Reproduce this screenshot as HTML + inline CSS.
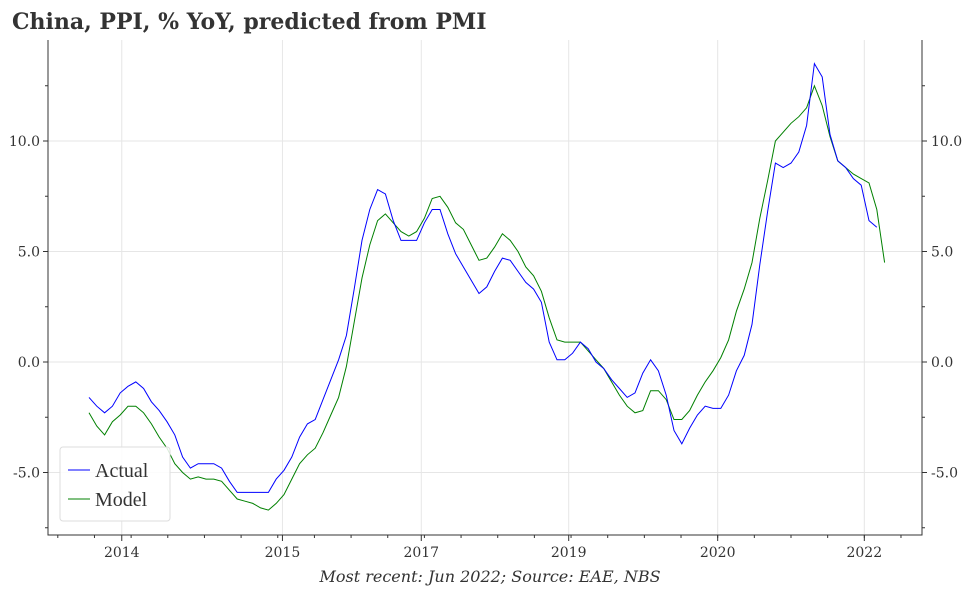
<!DOCTYPE html>
<html><head><meta charset="utf-8"><style>
body{margin:0;background:#fff;width:972px;height:589px;overflow:hidden}
text{font-family:"DejaVu Serif","Liberation Serif",serif}
</style></head><body>
<svg id="chart" width="972" height="589">
<text x="12" y="29" font-size="22" font-weight="bold" fill="#333">China, PPI, % YoY, predicted from PMI</text>
<g id="grid"></g><g id="axes"></g><g id="series"></g>
<g>
<rect x="60" y="447" width="110" height="74" rx="3" fill="#fff" fill-opacity="0.85" stroke="#ddd"/>
<line x1="68" y1="470" x2="90" y2="470" stroke="#0000ff" stroke-width="1"/>
<text x="95" y="477" font-size="20" fill="#333" style="font-family:'Liberation Serif',serif">Actual</text>
<line x1="68" y1="499" x2="90" y2="499" stroke="#008000" stroke-width="1"/>
<text x="95" y="506" font-size="20" fill="#333" style="font-family:'Liberation Serif',serif">Model</text>
</g>
<text x="490" y="582" font-size="16" font-style="italic" fill="#333" text-anchor="middle">Most recent: Jun 2022; Source: EAE, NBS</text>
</svg>
<script>
const actual=[-1.6,-2.0,-2.3,-2.0,-1.4,-1.1,-0.9,-1.2,-1.8,-2.2,-2.7,-3.3,
-4.3,-4.8,-4.6,-4.6,-4.6,-4.8,-5.4,-5.9,-5.9,-5.9,-5.9,-5.9,
-5.3,-4.9,-4.3,-3.4,-2.8,-2.6,-1.7,-0.8,0.1,1.2,3.3,5.5,
6.9,7.8,7.6,6.4,5.5,5.5,5.5,6.3,6.9,6.9,5.8,4.9,
4.3,3.7,3.1,3.4,4.1,4.7,4.6,4.1,3.6,3.3,2.7,0.9,
0.1,0.1,0.4,0.9,0.6,0.0,-0.3,-0.8,-1.2,-1.6,-1.4,-0.5,
0.1,-0.4,-1.5,-3.1,-3.7,-3.0,-2.4,-2.0,-2.1,-2.1,-1.5,-0.4,
0.3,1.7,4.4,6.8,9.0,8.8,9.0,9.5,10.7,13.5,12.9,10.3,
9.1,8.8,8.3,8.0,6.4,6.1];
const model=[-2.3,-2.9,-3.3,-2.7,-2.4,-2.0,-2.0,-2.3,-2.8,-3.4,-3.9,-4.6,
-5.0,-5.3,-5.2,-5.3,-5.3,-5.4,-5.8,-6.2,-6.3,-6.4,-6.6,-6.7,
-6.4,-6.0,-5.3,-4.6,-4.2,-3.9,-3.2,-2.4,-1.6,-0.2,1.8,3.8,
5.3,6.4,6.7,6.3,5.9,5.7,5.9,6.5,7.4,7.5,7.0,6.3,
6.0,5.3,4.6,4.7,5.2,5.8,5.5,5.0,4.3,3.9,3.2,2.0,
1.0,0.9,0.9,0.9,0.5,0.1,-0.3,-0.9,-1.5,-2.0,-2.3,-2.2,
-1.3,-1.3,-1.7,-2.6,-2.6,-2.2,-1.5,-0.9,-0.4,0.2,1.0,
2.3,3.3,4.5,6.5,8.2,10.0,10.4,10.8,11.1,11.5,12.5,11.6,
10.2,9.1,8.8,8.5,8.3,8.1,6.9,4.5];
const yTicks=[-5,0,5,10];
const xTickLabels=["2014","2015","2017","2019","2020","2022"];
const xTickMonths=[4.2,24.8,42.6,61.5,80.6,99.4];
const NS="http://www.w3.org/2000/svg";
const L=48,R=922,B=535,T=40;
const xs=i=>89+i*7.8;
const ys=v=>362-v*22.1;
function mk(tag,attrs,parent,txt){const e=document.createElementNS(NS,tag);for(const k in attrs)e.setAttribute(k,attrs[k]);if(txt!==undefined)e.textContent=txt;document.getElementById(parent).appendChild(e);return e;}
yTicks.forEach(v=>{
 const g=mk('line',{x1:L,x2:R,y1:ys(v),y2:ys(v),stroke:'#e6e6e6'},'grid');
 
 
 const t1=mk('text',{x:40,y:ys(v)+5,'font-size':14,'text-anchor':'end',fill:'#333'},'axes',v.toFixed(1));
 
 
 const t2=mk('text',{x:931,y:ys(v)+5,'font-size':14,fill:'#333'},'axes',v.toFixed(1));
 
 
 mk('line',{x1:L-5,x2:L,y1:ys(v),y2:ys(v),stroke:'#333'},'axes');
 mk('line',{x1:R,x2:R+5,y1:ys(v),y2:ys(v),stroke:'#333'},'axes');
});
for(let v=-7.5;v<=12.5;v+=5){mk('line',{x1:L-3,x2:L,y1:ys(v),y2:ys(v),stroke:'#333'},'axes');mk('line',{x1:R,x2:R+3,y1:ys(v),y2:ys(v),stroke:'#333'},'axes');}
xTickMonths.forEach((m,i)=>{
 const x=xs(m);
 const g=mk('line',{x1:x,x2:x,y1:T,y2:B,stroke:'#e6e6e6'},'grid');
 
 
 mk('line',{x1:x,x2:x,y1:B,y2:B+6,stroke:'#333'},'axes');
 const t=mk('text',{x:x,y:557,'font-size':14,'text-anchor':'middle',fill:'#333'},'axes',xTickLabels[i]);
 
 
});
for(let m=-4;m<=106;m+=4.7){const x=xs(m);if(x>L&&x<R)mk('line',{x1:x,x2:x,y1:B,y2:B+3,stroke:'#333'},'axes');}
const ax=mk('path',{d:`M${L},${T} V${B} H${R} V${T}`,fill:'none',stroke:'#333'},'axes');


function line(arr,color,name){
 const d=arr.map((v,i)=>(i?'L':'M')+xs(i).toFixed(1)+','+ys(v).toFixed(1)).join(' ');
 const p=mk('path',{d:d,fill:'none',stroke:color,'stroke-width':1},'series');
 
 
}
line(model,'#008000','model-line');
line(actual,'#0000ff','actual-line');
</script>
</body></html>
